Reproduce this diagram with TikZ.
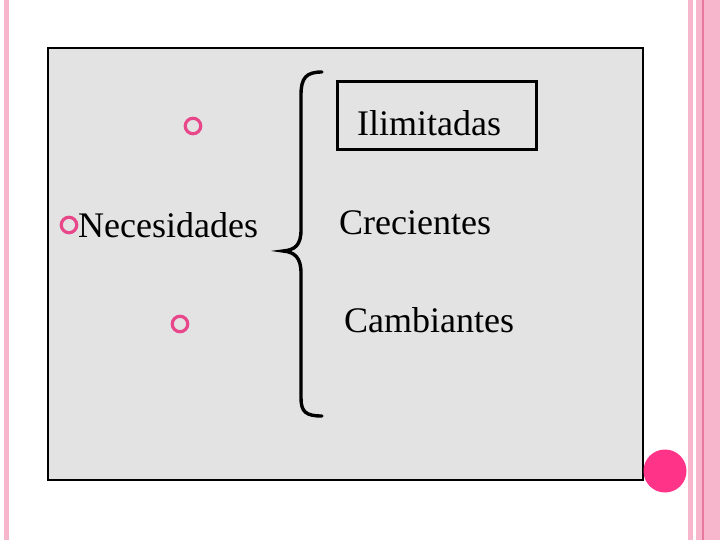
\documentclass[tikz,border=0pt]{standalone}
\usepackage{fontspec}
\setmainfont{Liberation Serif}
\definecolor{stripe}{HTML}{F8B6CC}
\definecolor{stripedark}{HTML}{E878A0}
\definecolor{panel}{HTML}{E3E3E3}
\definecolor{ringpink}{HTML}{E8488A}
\definecolor{dotpink}{HTML}{FF3388}
\begin{document}
\begin{tikzpicture}[x=1pt,y=-1pt,
  ring/.style={circle,draw=ringpink,line width=3.2pt,minimum size=15.5pt,inner sep=0pt},
  word/.style={anchor=base west,inner sep=0pt,font=\fontsize{36}{40}\selectfont}]
\useasboundingbox (0,0) rectangle (720,540);
\fill[white] (0,0) rectangle (720,540);
% stripes
\fill[stripe] (4,0) rectangle (9,540);
\fill[stripe] (688,0) rectangle (693,540);
\fill[stripe] (696,0) rectangle (720,540);
\fill[stripedark] (702,0) rectangle (703.5,540);
% panel
\node[draw=black,fill=panel,line width=1.5pt,minimum width=595pt,minimum height=432pt,inner sep=0pt] (panel) at (345.5,264) {};
\node[circle,fill=dotpink,minimum width=43pt,inner sep=0pt] (dot) at (665,471) {};
% rings
\node[ring] (r1) at (193,126) {};
\node[ring] (r2) at (69,225) {};
\node[ring] (r3) at (180,324) {};
% texts
\node[word] (nec) at (78,237) {Necesidades};
\node[draw=black,line width=3pt,minimum width=199pt,minimum height=68pt,inner sep=0pt] (box) at (436.5,116) {};
\node[word] (ili) at (357,136) {Ilimitadas};
\node[word] (cre) at (339,234) {Crecientes};
\node[word] (cam) at (344,332) {Cambiantes};
% brace
\draw[line width=3.4pt,line cap=round]
  (322,72) .. controls (306,72) and (301,78) .. (301,95) -- (301,230)
  .. controls (301,245) and (295,250) .. (283,251)
  .. controls (295,252) and (301,258) .. (301,273) -- (301,398)
  .. controls (301,412) and (306,416) .. (322,416);
\end{tikzpicture}
\end{document}
